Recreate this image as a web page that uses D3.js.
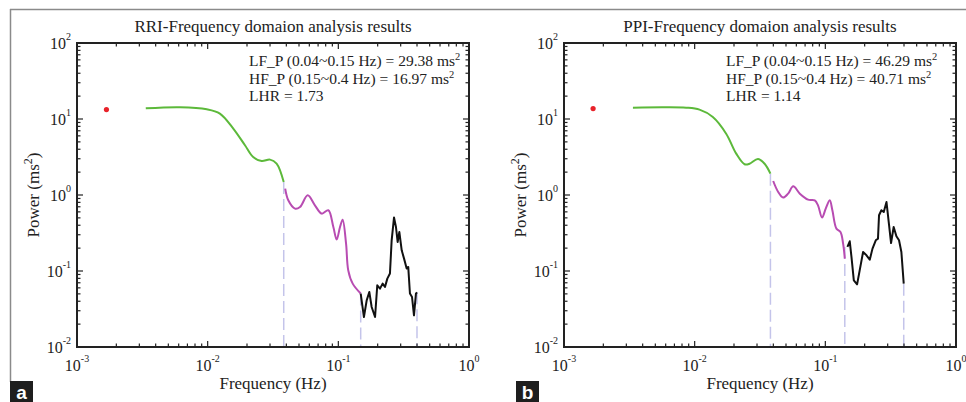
<!DOCTYPE html>
<html lang="en">
<head>
<meta charset="UTF-8">
<title>Frequency domain analysis results</title>
<script src="https://d3js.org/d3.v7.min.js"></script>
<style>
  body { margin: 0; background: #fff; }
  svg { display: block; font-family: "Liberation Serif", "Times New Roman", serif; }
  .title { font-size: 17px; text-anchor: middle; fill: #222; }
  .ann { font-size: 15.5px; fill: #222; }
  .tick-label { font-size: 16px; fill: #222; }
  .axis-label { font-size: 17px; fill: #222; text-anchor: middle; }
  .frame { stroke: #222; stroke-width: 2; fill: none; }
  .tick { stroke: #222; stroke-width: 1.2; }
  .edge { stroke: #c4c4ea; stroke-width: 1.5; stroke-dasharray: 12 5; fill: none; }
  .vlf { stroke: #5cb93a; stroke-width: 2; fill: none; }
  .lf { stroke: #b84cb2; stroke-width: 2; fill: none; }
  .hf { stroke: #111; stroke-width: 2; fill: none; }
  .dc { fill: #e8222a; }
</style>
</head>
<body>
<svg id="chart" width="966" height="402"></svg>
<script>
// ---- data: [frequency (Hz), power (ms^2)] ----
const rriDc = [[0.00168, 13.3]];
const rriVlf = [[0.00336, 13.8], [0.00614, 14.26], [0.00984, 13.43], [0.0124, 11.78], [0.0157, 7.48],
  [0.0193, 4.51], [0.0223, 3.16], [0.0259, 2.80], [0.0300, 2.92], [0.0337, 2.59], [0.0382, 1.48]];
const rriLf = [[0.0392, 1.21], [0.0414, 0.851], [0.0466, 0.662], [0.0509, 0.695], [0.0583, 0.991],
  [0.0662, 0.731], [0.0746, 0.569], [0.0838, 0.630], [0.0916, 0.379], [0.0971, 0.259], [0.1030, 0.379],
  [0.1079, 0.474], [0.1146, 0.229], [0.1191, 0.102], [0.1288, 0.0682], [0.1483, 0.0505]];
const rriHf = [[0.1483, 0.0505], [0.157, 0.0248], [0.1648, 0.0411], [0.1726, 0.0530], [0.1799, 0.0336],
  [0.191, 0.0248], [0.1986, 0.0649], [0.2084, 0.0586], [0.2183, 0.0682], [0.2275, 0.0615], [0.2371, 0.0794],
  [0.2483, 0.0925], [0.2559, 0.2535], [0.2667, 0.5047], [0.2761, 0.3793], [0.2844, 0.2410], [0.2931, 0.3258],
  [0.3055, 0.1871], [0.3184, 0.1455], [0.3334, 0.1076], [0.3428, 0.1130], [0.3532, 0.0505], [0.3664, 0.0455],
  [0.3793, 0.0261], [0.3926, 0.0505], [0.3999, 0.0525]];

const ppiDc = [[0.00167, 13.7]];
const ppiVlf = [[0.00337, 14.09], [0.00571, 14.26], [0.00861, 14.09], [0.01089, 13.27], [0.01377, 10.62],
  [0.01742, 6.41], [0.0208, 3.50], [0.0241, 2.535], [0.0263, 2.58], [0.0305, 2.98], [0.0343, 2.58], [0.0380, 1.91]];
const ppiLf = [[0.0399, 1.528], [0.0436, 1.094], [0.0475, 0.925], [0.0519, 1.042], [0.0568, 1.30],
  [0.0638, 1.042], [0.0738, 0.869], [0.0830, 0.851], [0.0879, 0.731], [0.0944, 0.505], [0.1007, 0.662],
  [0.1081, 0.851], [0.1132, 0.630], [0.1216, 0.361], [0.1306, 0.326], [0.1368, 0.2296], [0.1409, 0.1455]];
const ppiHf = [[0.1476, 0.207], [0.1538, 0.246], [0.1585, 0.153], [0.1652, 0.0755], [0.175, 0.0668],
  [0.1832, 0.102], [0.1945, 0.178], [0.2065, 0.161], [0.2188, 0.141], [0.2296, 0.197], [0.2432, 0.2535],
  [0.2529, 0.2667], [0.2576, 0.541], [0.2685, 0.630], [0.2799, 0.597], [0.2938, 0.809], [0.3076, 0.399],
  [0.3184, 0.2333], [0.3334, 0.379], [0.3499, 0.2864], [0.3664, 0.2535], [0.3819, 0.178], [0.3981, 0.0682]];

const xDomain = [1e-3, 1];
const yDomain = [1e-2, 1e2];
const xTickExp = ["-3", "-2", "-1", "0"];
const yTickExp = ["-2", "-1", "0", "1", "2"];

const rriTitle = "RRI-Frequency domaion analysis results";
const ppiTitle = "PPI-Frequency domaion analysis results";
const rriAnn = ["LF_P (0.04~0.15 Hz) = 29.38 ms", "HF_P (0.15~0.4 Hz) = 16.97 ms", "LHR = 1.73"];
const ppiAnn = ["LF_P (0.04~0.15 Hz) = 46.29 ms", "HF_P (0.15~0.4 Hz) = 40.71 ms", "LHR = 1.14"];

const svg = d3.select("#chart");

// outer frame of the figure
svg.append("line").attr("x1", 10).attr("x2", 966).attr("y1", 9.5).attr("y2", 9.5)
  .attr("stroke", "#8a8a8a").attr("stroke-width", 1.5);
svg.append("line").attr("x1", 10.5).attr("x2", 10.5).attr("y1", 9).attr("y2", 382)
  .attr("stroke", "#8a8a8a").attr("stroke-width", 1.5);

function drawPanel(p) {
  const x = d3.scaleLog().domain(xDomain).range([p.left, p.right]);
  const y = d3.scaleLog().domain(yDomain).range([p.bottom, p.top]);
  const g = svg.append("g");
  const isMajor = v => Math.abs(Math.log10(v) - Math.round(Math.log10(v))) < 1e-6;

  // dashed band edges, drawn first so curves sit on top
  const series = [p.vlf, p.lf, p.hf];
  series.forEach((s, i) => {
    const last = s[s.length - 1];
    const next = series[i + 1];
    const top = next ? Math.max(last[1], next[0][1]) : last[1];
    g.append("line").attr("class", "edge")
      .attr("x1", x(last[0])).attr("x2", x(last[0]))
      .attr("y1", y(top)).attr("y2", y(yDomain[0]));
  });

  const smooth = d3.line().x(d => x(d[0])).y(d => y(d[1])).curve(d3.curveCatmullRom.alpha(0.5));
  const straight = d3.line().x(d => x(d[0])).y(d => y(d[1]));
  g.append("path").datum(p.vlf).attr("class", "vlf").attr("d", smooth);
  g.append("path").datum(p.lf).attr("class", "lf").attr("d", smooth);
  g.append("path").datum(p.hf).attr("class", "hf").attr("stroke-linejoin", "round").attr("d", straight);
  g.selectAll(".dc").data(p.dc).join("circle").attr("class", "dc")
    .attr("cx", d => x(d[0])).attr("cy", d => y(d[1])).attr("r", 2.6);

  // inward ticks on all four sides
  x.ticks().forEach(v => {
    const len = isMajor(v) ? 6 : 3.5;
    g.append("line").attr("class", "tick").attr("x1", x(v)).attr("x2", x(v))
      .attr("y1", p.bottom).attr("y2", p.bottom - len);
    g.append("line").attr("class", "tick").attr("x1", x(v)).attr("x2", x(v))
      .attr("y1", p.top).attr("y2", p.top + len);
  });
  y.ticks().forEach(v => {
    const len = isMajor(v) ? 6 : 3.5;
    g.append("line").attr("class", "tick").attr("y1", y(v)).attr("y2", y(v))
      .attr("x1", p.left).attr("x2", p.left + len);
    g.append("line").attr("class", "tick").attr("y1", y(v)).attr("y2", y(v))
      .attr("x1", p.right).attr("x2", p.right - len);
  });

  g.append("rect").attr("class", "frame")
    .attr("x", p.left).attr("y", p.top)
    .attr("width", p.right - p.left).attr("height", p.bottom - p.top);

  // tick labels with superscript exponents
  xTickExp.forEach(e => {
    const t = g.append("text").attr("class", "tick-label").attr("text-anchor", "middle")
      .attr("x", x(Math.pow(10, +e))).attr("y", p.bottom + 24);
    t.append("tspan").text("10");
    t.append("tspan").attr("dy", -9).attr("font-size", 10).text(e);
  });
  yTickExp.forEach(e => {
    const t = g.append("text").attr("class", "tick-label").attr("text-anchor", "end")
      .attr("x", p.left - 6).attr("y", y(Math.pow(10, +e)) + 6);
    t.append("tspan").text("10");
    t.append("tspan").attr("dy", -9).attr("font-size", 10).text(e);
  });

  g.append("text").attr("class", "title").attr("x", (p.left + p.right) / 2).attr("y", 32).text(p.title);

  p.ann.forEach((s, i) => {
    const t = g.append("text").attr("class", "ann").attr("x", p.annX).attr("y", 66 + i * 17.5);
    t.append("tspan").text(s);
    if (i < 2) t.append("tspan").attr("dy", -6).attr("font-size", 10.5).text("2");
  });

  g.append("text").attr("class", "axis-label").attr("x", (p.left + p.right) / 2).attr("y", 389)
    .text("Frequency (Hz)");
  const yl = g.append("text").attr("class", "axis-label")
    .attr("transform", `translate(${p.left - 38},${(p.top + p.bottom) / 2}) rotate(-90)`);
  yl.append("tspan").text("Power (ms");
  yl.append("tspan").attr("dy", -7).attr("font-size", 12).text("2");
  yl.append("tspan").attr("dy", 7).text(")");

  // panel letter
  svg.append("rect").attr("x", p.tagX).attr("y", 381).attr("width", 23).attr("height", 21).attr("fill", "#1e1e1e");
  svg.append("text").attr("x", p.tagX + 11.5).attr("y", 399).attr("text-anchor", "middle")
    .attr("font-family", "Liberation Sans, Arial, sans-serif").attr("font-weight", "bold")
    .attr("font-size", 19).attr("fill", "#fff").text(p.tag);
}

drawPanel({ left: 77, right: 469, top: 43, bottom: 347, title: rriTitle, ann: rriAnn, annX: 249,
  dc: rriDc, vlf: rriVlf, lf: rriLf, hf: rriHf, tag: "a", tagX: 10 });
drawPanel({ left: 564, right: 956, top: 43, bottom: 347, title: ppiTitle, ann: ppiAnn, annX: 726,
  dc: ppiDc, vlf: ppiVlf, lf: ppiLf, hf: ppiHf, tag: "b", tagX: 516 });
</script>
</body>
</html>
